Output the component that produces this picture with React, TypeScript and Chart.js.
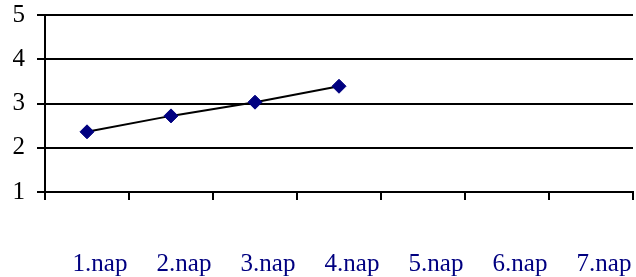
import React, { useEffect, useRef } from "react";
import { Chart, registerables } from "chart.js";

Chart.register(...registerables);

const categories = ["1.nap", "2.nap", "3.nap", "4.nap", "5.nap", "6.nap", "7.nap"];
const values: (number | null)[] = [2.36, 2.72, 3.03, 3.39, null, null, null];
const yMin = 1;
const yMax = 5;

const zeroPad = (s: any) => {
  s.paddingTop = 0;
  s.paddingBottom = 0;
  s.paddingLeft = 0;
  s.paddingRight = 0;
};

export default function App() {
  const ref = useRef<HTMLCanvasElement>(null);
  useEffect(() => {
    document.body.style.margin = "0";
    const ctx = ref.current!;
    const chart = new Chart(ctx, {
      type: "line",
      data: {
        labels: categories,
        datasets: [
          {
            data: values,
            borderColor: "#000000",
            borderWidth: 2,
            pointStyle: "rectRot",
            pointRadius: 7,
            pointBackgroundColor: "#000080",
            pointBorderColor: "#000080",
            pointBorderWidth: 1,
            spanGaps: false,
          },
        ],
      },
      options: {
        responsive: false,
        animation: false,
        devicePixelRatio: 1,
        layout: { autoPadding: false, padding: { top: 15, right: 3, left: 0, bottom: 0 } },
        plugins: { legend: { display: false }, tooltip: { enabled: false } },
        scales: {
          x: {
            offset: true,
            grid: {
              offset: true,
              drawOnChartArea: false,
              drawTicks: true,
              tickLength: 8,
              color: "#000000",
              lineWidth: 2,
            },
            border: { display: true, color: "#000000", width: 2 },
            ticks: {
              color: "#000080",
              font: { family: "'Liberation Serif', 'Times New Roman', serif", size: 25 },
              padding: 49,
              labelOffset: 13,
              maxRotation: 0,
              autoSkip: false,
            },
            afterFit: (s: any) => {
              s.height = 85;
              zeroPad(s);
            },
          },
          y: {
            min: yMin,
            max: yMax,
            grid: {
              color: "#000000",
              lineWidth: 2,
              drawTicks: true,
              tickLength: 8,
            },
            border: { display: true, color: "#000000", width: 2 },
            ticks: {
              stepSize: 1,
              color: "#000000",
              font: { family: "'Liberation Serif', 'Times New Roman', serif", size: 25 },
              padding: 12,
            },
            afterFit: (s: any) => {
              s.width = 45;
              zeroPad(s);
            },
          },
        },
      },
    });
    return () => chart.destroy();
  }, []);
  return <canvas ref={ref} width={636} height={277} style={{ display: "block" }} />;
}
